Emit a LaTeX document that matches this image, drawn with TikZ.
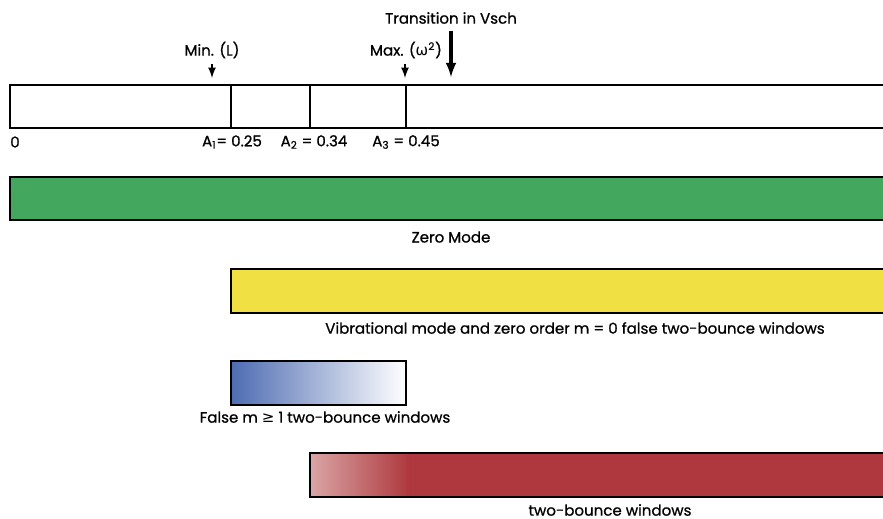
\documentclass[tikz,border=0pt]{standalone}
\usepackage{fontspec}
\setmainfont{Poppins}[FakeBold=0.8]
\newfontfamily\symfont{DejaVu Sans}
\usepackage{xcolor}
\usepackage{tikz}
\usetikzlibrary{positioning,arrows}
\definecolor{zerogreen}{RGB}{67,168,94}
\definecolor{vibyellow}{RGB}{240,224,68}
\definecolor{falseblue}{RGB}{78,108,178}
\definecolor{bouncered}{RGB}{174,56,62}
\definecolor{bouncepink}{RGB}{218,165,165}

\tikzset{
  lbl/.style={font=\fontsize{10.7}{12}\selectfont, inner sep=0pt},
  barline/.style={line width=1.4pt},
  tick/.style={-latex, line width=1.5pt},
}

\begin{document}
\begin{tikzpicture}[x=0.025cm, y=-0.025cm]
\clip (0,0) rectangle (883,519);

% top scale
\draw[barline] (10,85) rectangle (895,128);
\draw[barline] (231,85) -- (231,128);
\draw[barline] (310,85) -- (310,128);
\draw[barline] (406,85) -- (406,128);

\node[lbl] (zero) at (15,142) {0};
\node[lbl] (a1) at (232,142) {A\textsubscript{1}= 0.25};
\node[lbl] (a2) at (314,142) {A\textsubscript{2} = 0.34};
\node[lbl] (a3) at (406,142) {A\textsubscript{3} = 0.45};

% markers
\node[lbl] (minl) at (212,50) {Min. (L)};
\node[lbl] (maxw) at (406,50) {Max. ({\symfont ω}\textsuperscript{2})};
\node[lbl] (trans) at (451,18) {Transition in Vsch};
\coordinate (minend) at (212,78);
\coordinate (maxend) at (405,78);
\coordinate (transend) at (451,77);
\draw[tick] (212,64) -- (minend);
\draw[tick] (405,64) -- (maxend);
\draw[-latex, line width=2.4pt] (451,31) -- (transend);

% zero mode
\draw[barline, fill=zerogreen] (10,177) rectangle (895,220);
\node[lbl] (zerolbl) at (451,237) {Zero Mode};

% vibrational mode
\draw[barline, fill=vibyellow] (231,269) rectangle (895,313);
\node[lbl] (viblbl) at (575,328) {Vibrational mode and zero order m = 0 false two-bounce windows};

% false windows
\shade[left color=falseblue, right color=white] (231,361) rectangle (406,405);
\draw[barline] (231,361) rectangle (406,405);
\node[lbl] (falselbl) at (325,417) {False m {\symfont ≥} 1 two-bounce windows};

% two-bounce windows
\shade[left color=bouncepink, right color=bouncered] (310,453) rectangle (410,497);
\fill[bouncered] (409,453) rectangle (895,497);
\draw[barline] (310,453) rectangle (895,497);
\node[lbl] (bouncelbl) at (610,510) {two-bounce windows};
\end{tikzpicture}
\end{document}
